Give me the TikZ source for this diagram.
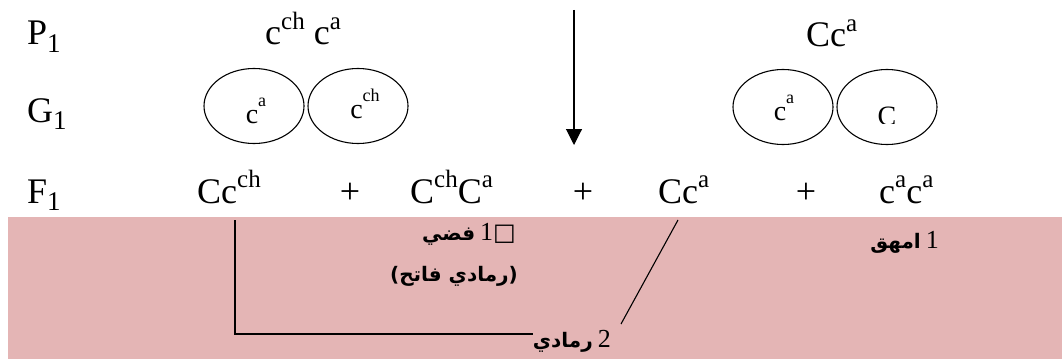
\documentclass[tikz,border=0pt]{standalone}
\usepackage{fontspec}
\setmainfont{Liberation Serif}
\newfontfamily\arabicfont[Script=Arabic]{DejaVu Sans}
\TeXXeTstate=1
\usetikzlibrary{arrows.meta,shapes.geometric}
\definecolor{bandpink}{HTML}{E4B5B5}
\newcommand{\Sp}[1]{\raisebox{0.42em}{\fontsize{25}{25}\selectfont #1}}
\newcommand{\Sb}[1]{\raisebox{-0.22em}{\fontsize{27}{27}\selectfont #1}}
\newcommand{\SSp}[1]{\raisebox{0.6em}{\fontsize{18}{18}\selectfont #1}}
\newcommand{\ar}[1]{{\arabicfont\bfseries\beginR #1\endR}}
\tikzset{
  big/.style={font=\fontsize{36}{40}\selectfont, inner sep=0pt, anchor=base west},
  small/.style={font=\fontsize{28}{30}\selectfont, inner sep=0pt, anchor=base},
  gam/.style={draw, ellipse, line width=1.1pt, minimum width=100pt, minimum height=75pt, inner sep=0pt},
  lbl/.style={font=\fontsize{20}{24}\selectfont, inner sep=0pt},
  conn/.style={line width=1.1pt}
}
\begin{document}
\begin{tikzpicture}[x=1pt,y=-1pt]
\useasboundingbox (0,0) rectangle (1062,361);
\fill[bandpink] (8,217) rectangle (1062,359);
% row P1
\node[big] (p1) at (27,45) {P\Sb{1}};
\node[big] (pa) at (265,45) {c\Sp{ch} c\Sp{a}};
\node[big] (pb) at (806,47) {Cc\Sp{a}};
% arrow
\coordinate (atop) at (574,10);
\coordinate (abot) at (574,145);
\draw[line width=1.1pt,-{Triangle[width=16pt,length=16pt]}] (atop) -- (abot);
% row G1
\node[big] (g1) at (27,122) {G\Sb{1}};
\node[gam] (e1) at (254,106) {};
\node[gam] (e2) at (358,106) {};
\node[gam] (e3) at (783,107) {};
\node[gam] (e4) at (887,107) {};
\node[small] (t1) at (256,123) {c\SSp{a}};
\node[small] (t2) at (365,118) {c\SSp{ch}};
\node[small] (t3) at (784,120) {c\SSp{a}};
\begin{scope}
\clip (860,90) rectangle (915,123);
\node[small] (t4) at (887,125.5) {C};
\end{scope}
% row F1
\node[big] (f1) at (27,203) {F\Sb{1}};
\node[big] (fa) at (197,203) {Cc\Sp{ch}};
\node[big,anchor=base] (plus1) at (350,203) {+};
\node[big] (fb) at (410,203) {C\Sp{ch}C\Sp{a}};
\node[big,anchor=base] (plus2) at (583,203) {+};
\node[big] (fc) at (658,203) {Cc\Sp{a}};
\node[big,anchor=base] (plus3) at (806,203) {+};
\node[big] (fd) at (879,203) {c\Sp{a}c\Sp{a}};
% labels in the band
\node[lbl,anchor=base east] (l1) at (516,240) {\ar{فضي} {\fontsize{26}{26}\selectfont 1}{\fontsize{24}{24}\selectfont\fontspec{DejaVu Sans}□}};
\node[lbl,anchor=base] (l2) at (454,281) {\ar{(رمادي فاتح)}};
\node[lbl,anchor=base east] (l3) at (939,248) {\ar{امهق} {\fontsize{26}{26}\selectfont 1}};
\node[lbl,anchor=base east] (l4) at (611,347) {\ar{رمادي} {\fontsize{26}{26}\selectfont 2}};
% connectors
\coordinate (c1) at (235,220);
\coordinate (c2) at (235,334);
\coordinate (c3) at (l4.west |- c2);
\draw[conn] (c1) -- (c2) -- (c3);
\coordinate (d1) at (678,220);
\coordinate (d2) at (621,324);
\draw[conn] (d1) -- (d2);
\end{tikzpicture}
\end{document}
